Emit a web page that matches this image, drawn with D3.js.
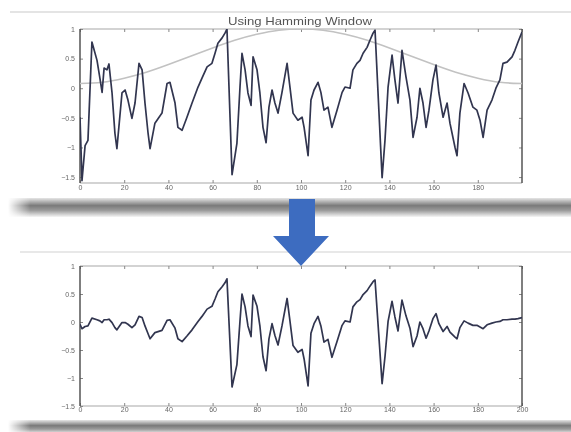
<!DOCTYPE html>
<html>
<head>
<meta charset="utf-8">
<script src="https://cdn.jsdelivr.net/npm/d3@7"></script>
<style>
  html, body { margin: 0; padding: 0; background: #fff; }
  svg { display: block; }
  .tick-label { font-family: "Liberation Sans", Arial, sans-serif; font-size: 7px; fill: #666; }
</style>
</head>
<body>
<div id="canvas"></div>
<script>
// ---- data ----
const title = "Using Hamming Window";
const xTicks = [0, 20, 40, 60, 80, 100, 120, 140, 160, 180, 200];
const yTicks = [1, 0.5, 0, -0.5, -1, -1.5];

// traced frame of the speech signal (sample index, amplitude)
const sigS = [0, 0.9, 2.3, 3.6, 5.4, 7.7, 9.0, 10.0, 10.9, 12.2, 13.1, 14.5, 15.8, 16.7, 19.0, 20.4, 21.7, 23.5, 24.9, 26.7,
  28.1, 29.4, 30.8, 31.7, 33.9, 37.1, 39.4, 40.7, 43.0, 44.3, 46.2, 48.4, 50.7, 53.4, 55.2, 57.5, 59.7, 61.1, 62.4, 64.3,
  65.6, 66.5, 68.8, 71.0, 72.4, 73.3, 74.7, 76.0, 77.4, 78.3, 80.1, 81.4, 82.8, 84.2, 85.5, 86.9, 88.2, 89.6, 91.4, 93.7,
  95.0, 96.4, 98.6, 100.5, 101.4, 103.2, 104.5, 105.9, 107.7, 109.0, 110.4, 112.2, 114.0, 116.3, 118.6, 119.9, 122.2, 123.5, 125.3, 126.7,
  128.1, 129.9, 131.2, 132.6, 133.5, 136.7, 138.0, 139.4, 141.2, 142.5, 143.9, 145.7, 147.5, 149.3, 150.7, 152.5, 153.8, 155.2, 156.6, 157.9,
  159.7, 161.1, 162.4, 164.3, 166.1, 167.4, 169.7, 170.6, 171.9, 173.8, 175.6, 177.8, 179.6, 181.0, 182.4, 184.2, 186.4, 188.2, 190.0, 191.4,
  193.2, 195.5, 196.8, 198.2, 200];
const sigV = [-0.49, -1.56, -0.97, -0.88, 0.78, 0.47, 0.17, -0.07, 0.34, 0.31, 0.41, -0.08, -0.76, -1.02, -0.08, -0.03, -0.20, -0.51, -0.25, 0.42,
  0.31, -0.25, -0.76, -1.02, -0.59, -0.42, 0.08, 0.10, -0.25, -0.66, -0.71, -0.49, -0.25, 0.02, 0.17, 0.36, 0.42, 0.59, 0.76, 0.85,
  0.93, 1.00, -1.46, -0.93, 0.02, 0.59, 0.31, -0.08, -0.29, 0.53, 0.31, -0.08, -0.66, -0.92, -0.32, -0.03, -0.25, -0.42, -0.07, 0.42,
  0.02, -0.42, -0.54, -0.49, -0.66, -1.14, -0.20, -0.03, 0.10, -0.07, -0.37, -0.32, -0.66, -0.37, -0.07, 0.02, 0.00, 0.31, 0.42, 0.47,
  0.59, 0.69, 0.81, 0.93, 0.98, -1.51, -0.88, 0.02, 0.56, 0.14, -0.25, 0.64, 0.19, -0.20, -0.83, -0.49, 0.00, -0.25, -0.66, -0.37,
  0.14, 0.39, -0.08, -0.49, -0.25, -0.59, -1.00, -1.14, -0.42, 0.08, -0.08, -0.32, -0.37, -0.54, -0.83, -0.37, -0.20, 0.00, 0.14, 0.42,
  0.44, 0.53, 0.64, 0.78, 0.95];

// windowed frame (lower panel), same sample positions
const outV = [-0.04, -0.12, -0.08, -0.07, 0.07, 0.04, 0.02, -0.01, 0.04, 0.04, 0.05, -0.01, -0.10, -0.14, -0.01, -0.01, -0.04, -0.10, -0.05, 0.10,
  0.08, -0.07, -0.21, -0.30, -0.19, -0.15, 0.03, 0.04, -0.11, -0.30, -0.35, -0.25, -0.14, 0.01, 0.10, 0.23, 0.28, 0.41, 0.54, 0.63,
  0.70, 0.77, -1.16, -0.76, 0.02, 0.50, 0.27, -0.07, -0.26, 0.48, 0.28, -0.07, -0.62, -0.87, -0.30, -0.03, -0.24, -0.41, -0.07, 0.42,
  0.02, -0.42, -0.54, -0.49, -0.66, -1.14, -0.20, -0.03, 0.10, -0.07, -0.36, -0.31, -0.63, -0.35, -0.06, 0.02, 0.00, 0.27, 0.36, 0.40,
  0.49, 0.56, 0.64, 0.72, 0.75, -1.10, -0.62, 0.01, 0.37, 0.09, -0.16, 0.39, 0.11, -0.11, -0.44, -0.25, 0.00, -0.12, -0.29, -0.16,
  0.06, 0.15, -0.03, -0.17, -0.08, -0.18, -0.27, -0.30, -0.10, 0.02, -0.02, -0.06, -0.06, -0.09, -0.12, -0.05, -0.02, 0.00, 0.01, 0.04,
  0.04, 0.05, 0.05, 0.06, 0.08];

// Hamming window curve drawn over the upper panel
const winS = [0, 10, 20, 30, 40, 50, 60, 70, 80, 90, 100, 110, 120, 130, 140, 150, 160, 170, 180, 190, 200];
const winV = [0.08, 0.10, 0.17, 0.27, 0.40, 0.54, 0.68, 0.81, 0.91, 0.98, 1.00, 0.98, 0.91, 0.81, 0.68, 0.54, 0.40, 0.27, 0.17, 0.10, 0.08];

// ---- drawing ----
const W = 571, H = 432;
const svg = d3.select("#canvas").append("svg").attr("width", W).attr("height", H);

const defs = svg.append("defs");
defs.append("filter").attr("id", "soft")
    .append("feGaussianBlur").attr("stdDeviation", 0.55);
const barGrad = defs.append("linearGradient").attr("id", "bar").attr("x1", 0).attr("x2", 0).attr("y1", 0).attr("y2", 1);
barGrad.append("stop").attr("offset", "0%").attr("stop-color", "#e6e6e6");
barGrad.append("stop").attr("offset", "40%").attr("stop-color", "#7a7a7a");
barGrad.append("stop").attr("offset", "65%").attr("stop-color", "#9a9a9a");
barGrad.append("stop").attr("offset", "100%").attr("stop-color", "#f6f6f6");
const sideFade = defs.append("linearGradient").attr("id", "fade");
sideFade.append("stop").attr("offset", "0%").attr("stop-color", "#fff").attr("stop-opacity", 1);
sideFade.append("stop").attr("offset", "4%").attr("stop-color", "#fff").attr("stop-opacity", 0);

const g = svg.append("g").attr("filter", "url(#soft)");

// slide decoration: thin rules and shadow bars
g.append("line").attr("x1", 10).attr("x2", W).attr("y1", 12).attr("y2", 12)
    .attr("stroke", "#e4e4e4").attr("stroke-width", 2);
g.append("rect").attr("x", 8).attr("y", 198).attr("width", W - 8).attr("height", 19).attr("fill", "url(#bar)");
g.append("rect").attr("x", 8).attr("y", 198).attr("width", W - 8).attr("height", 19).attr("fill", "url(#fade)");
g.append("line").attr("x1", 20).attr("x2", W).attr("y1", 252).attr("y2", 252)
    .attr("stroke", "#e8e8e8").attr("stroke-width", 2);
g.append("rect").attr("x", 8).attr("y", 420).attr("width", W - 8).attr("height", 14).attr("fill", "url(#bar)");
g.append("rect").attr("x", 8).attr("y", 420).attr("width", W - 8).attr("height", 14).attr("fill", "url(#fade)");

function panel(top, bottom, yDomain, xLabelY, labelTicks, series, withWindow, clipId) {
    const x = d3.scaleLinear().domain([0, 200]).range([80, 522]);
    const y = d3.scaleLinear().domain(yDomain).range([bottom, top]);
    const p = g.append("g");

    defs.append("clipPath").attr("id", clipId)
        .append("rect").attr("x", 80).attr("y", top).attr("width", 442).attr("height", bottom - top);

    // frame: light top/bottom, dark sides
    p.append("line").attr("x1", 80).attr("x2", 522).attr("y1", top).attr("y2", top).attr("stroke", "#c4c4c4").attr("stroke-width", 1.5);
    p.append("line").attr("x1", 80).attr("x2", 522).attr("y1", bottom).attr("y2", bottom).attr("stroke", "#c4c4c4").attr("stroke-width", 1.5);

    // inward ticks on all sides
    const xAxisB = d3.axisBottom(x).tickValues(labelTicks).tickSize(-3).tickPadding(5).tickFormat(d3.format("d"));
    const xAxisT = d3.axisTop(x).tickValues(xTicks).tickSize(-3).tickFormat("");
    const yAxisL = d3.axisLeft(y).tickValues(yTicks).tickSize(-3).tickPadding(5).tickFormat(d3.format("~g"));
    const yAxisR = d3.axisRight(y).tickValues(yTicks).tickSize(-3).tickFormat("");

    const ab = p.append("g").attr("transform", `translate(0,${bottom})`).call(xAxisB);
    p.append("g").attr("transform", `translate(0,${top})`).call(xAxisT);
    p.append("g").attr("transform", "translate(80,0)").call(yAxisL);
    p.append("g").attr("transform", "translate(522,0)").call(yAxisR);
    p.selectAll(".domain").remove();
    p.selectAll(".tick line").attr("stroke", "#888");
    p.selectAll(".tick text").attr("class", "tick-label").attr("fill", "#666");
    ab.selectAll("text").attr("dy", null).attr("y", xLabelY - bottom);

    p.append("line").attr("x1", 80).attr("x2", 80).attr("y1", top).attr("y2", bottom).attr("stroke", "#555").attr("stroke-width", 1.5);
    p.append("line").attr("x1", 522).attr("x2", 522).attr("y1", top).attr("y2", bottom).attr("stroke", "#555").attr("stroke-width", 1.5);

    if (withWindow) {
        const wl = d3.line().x(d => x(d[0])).y(d => y(d[1])).curve(d3.curveNatural);
        p.append("path").datum(d3.zip(winS, winV)).attr("d", wl)
            .attr("fill", "none").attr("stroke", "#c2c2c2").attr("stroke-width", 1.6)
            .attr("clip-path", `url(#${clipId})`);
    }

    const line = d3.line().x(d => x(d[0])).y(d => y(d[1]));
    p.append("path").datum(d3.zip(sigS, series)).attr("d", line)
        .attr("fill", "none").attr("stroke", "#30354f").attr("stroke-width", 1.7)
        .attr("stroke-linejoin", "round")
        .attr("clip-path", `url(#${clipId})`);
}

panel(29, 183, [-1.6, 1], 190, xTicks.slice(0, 10), sigV, true, "clipTop");
panel(266, 406, [-1.5, 1], 412, xTicks, outV, false, "clipBottom");

// title
g.append("text").attr("x", 300).attr("y", 25).attr("text-anchor", "middle")
    .attr("textLength", 144).attr("lengthAdjust", "spacingAndGlyphs")
    .style("font-family", "Liberation Sans, Arial, sans-serif").style("font-size", "11px")
    .attr("fill", "#555").text(title);

// blue arrow between the panels
const arrow = d3.path();
arrow.moveTo(289, 199);
arrow.lineTo(315, 199);
arrow.lineTo(315, 236);
arrow.lineTo(329, 236);
arrow.lineTo(301, 266);
arrow.lineTo(273, 236);
arrow.lineTo(289, 236);
arrow.closePath();
g.append("path").attr("d", arrow.toString()).attr("fill", "#3d6cc0");
</script>
</body>
</html>
